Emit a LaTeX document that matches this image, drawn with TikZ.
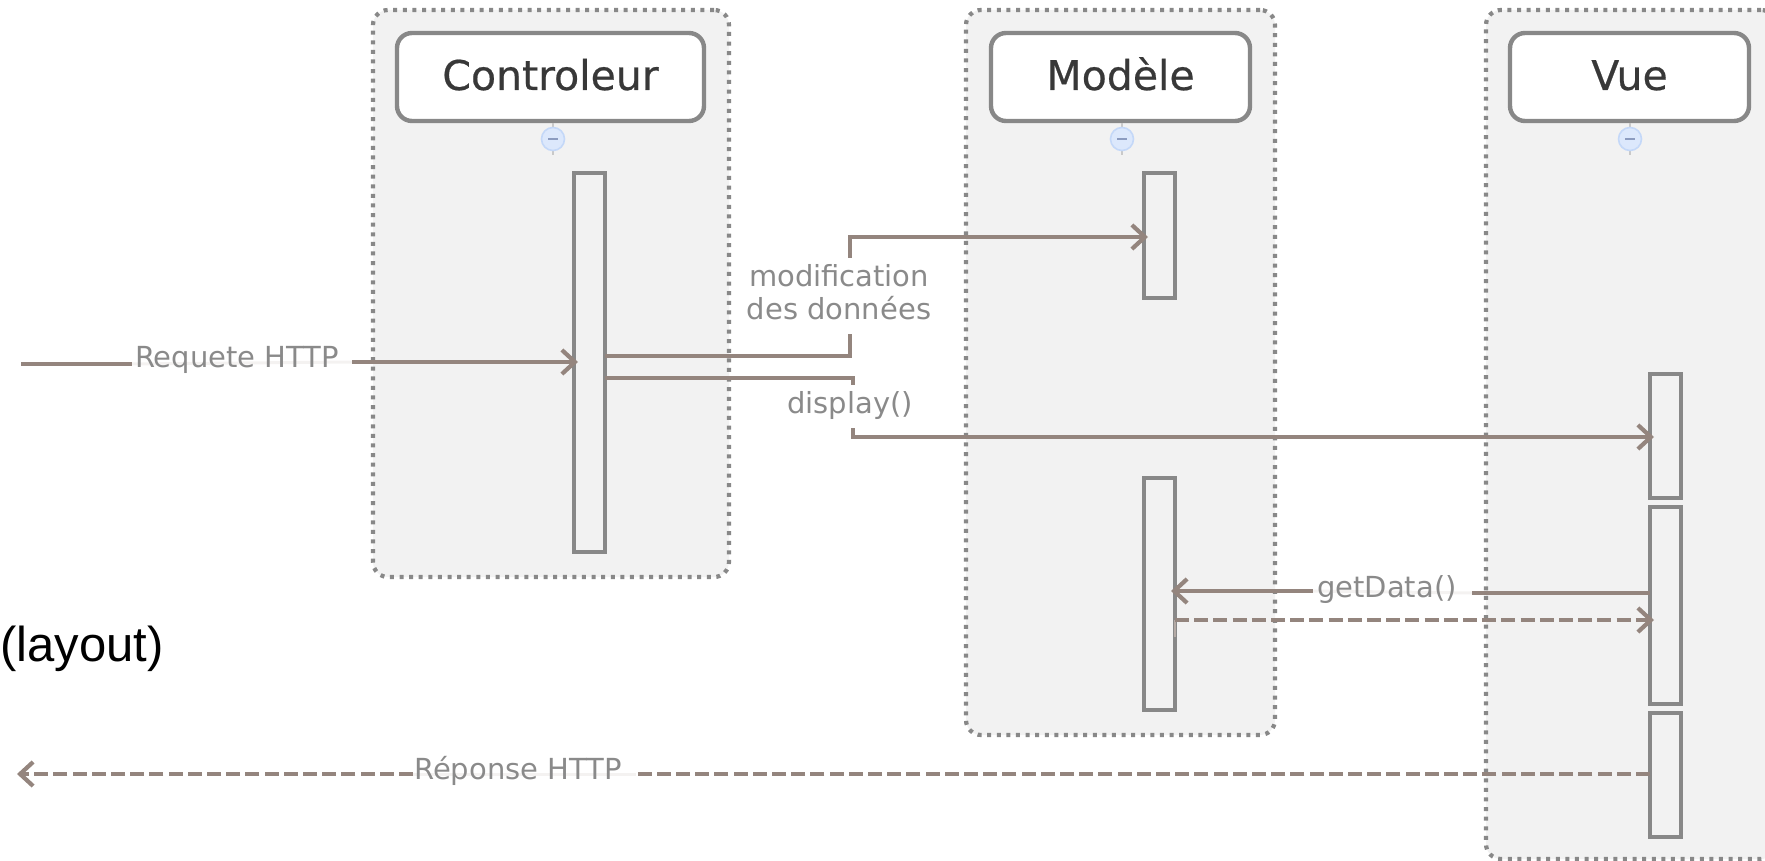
\documentclass[tikz,border=0pt]{standalone}
\usepackage{fontspec}
\setmainfont{DejaVu Sans}
\newfontfamily\arialfont{Liberation Sans}
\newfontfamily\headfont[FakeBold=0.5]{DejaVu Sans}
\usetikzlibrary{arrows.meta}
\definecolor{framefill}{HTML}{F2F2F2}
\definecolor{edgegrey}{HTML}{888888}
\definecolor{flow}{HTML}{94857E}
\definecolor{labelgrey}{HTML}{8A8A8A}
\definecolor{halo}{HTML}{F4F2F1}
\definecolor{bulbfill}{HTML}{DCE8FC}
\definecolor{bulbedge}{HTML}{C4D8F8}
\definecolor{bulbdash}{HTML}{8C9CC0}
\tikzset{
  lane/.style={draw=edgegrey,fill=framefill,line width=4.2pt,rounded corners=15pt,dash pattern=on 4pt off 5.6pt,inner sep=0pt,outer sep=0pt,anchor=north west},
  head/.style={draw=edgegrey,fill=white,line width=4.4pt,rounded corners=15pt,inner sep=0pt,outer sep=0pt,anchor=north west,text=black!78,text height=26pt,text depth=0pt,font=\headfont\fontsize{41}{45}\selectfont},
  actbar/.style={draw=edgegrey,fill=framefill,line width=4.8pt,inner sep=0pt,outer sep=0pt,anchor=north west,minimum width=31pt},
  msg/.style={draw=flow,line width=4.8pt},
  msgto/.style={msg,shorten >=-4pt,-{Straight Barb[length=13pt,width=24pt,line width=4.2pt]}},
  dashmsg/.style={dash pattern=on 14pt off 5.2pt},
  lab/.style={text=labelgrey,inner sep=0pt,outer sep=0pt,font=\fontsize{29}{33.5}\selectfont,align=center},
  halo line/.style={draw=halo,line width=3pt},
  bulb/.style={circle,draw=bulbedge,fill=bulbfill,line width=1.6pt,inner sep=0pt,outer sep=0pt,minimum size=23pt},
  stub/.style={draw=edgegrey!45,line width=2pt},
}
\begin{document}
\begin{tikzpicture}[x=1pt,y=-1pt]
\useasboundingbox (0,0) rectangle (1765,861);
% swimlanes
\node[lane,minimum width=356pt,minimum height=567pt] (laneC) at (373,10) {};
\node[lane,minimum width=309pt,minimum height=725pt] (laneM) at (966,10) {};
\node[lane,minimum width=290pt,minimum height=849pt] (laneV) at (1486,10) {};
% heads
\node[head,minimum width=307pt,minimum height=88pt] (headC) at (397,33) {Controleur};
\node[head,minimum width=259pt,minimum height=88pt] (headM) at (991,33) {Modèle};
\node[head,minimum width=239pt,minimum height=88pt] (headV) at (1510,33) {Vue};
% collapse bulbs
\foreach \n/\x in {C/553,M/1122,V/1630}{
  \draw[stub] (\x,123) -- (\x,155);
  \node[bulb] (bulb\n) at (\x,139) {};
  \draw[bulbdash,line width=1.8pt] (\x-5,139) -- (\x+5,139);
}
% activation bars
\node[actbar,minimum height=379pt] (barC) at (574,173) {};
\node[actbar,minimum height=125pt] (barM1) at (1144,173) {};
\node[actbar,minimum height=232pt] (barM2) at (1144,478) {};
\node[actbar,minimum height=124pt] (barV1) at (1650,374) {};
\node[actbar,minimum height=197pt] (barV2) at (1650,507) {};
\node[actbar,minimum height=124pt] (barV3) at (1650,713) {};
% free ends and bends
\coordinate (reqStart) at (21,364);
\coordinate (reqA) at (132,364);
\coordinate (reqB) at (352,362);
\coordinate (repEnd) at (21,774);
\coordinate (repA) at (413,774);
\coordinate (repB) at (636,774);
\coordinate (modA) at (850,356);
\coordinate (modB) at (850,334);
\coordinate (modC) at (850,258);
\coordinate (modD) at (850,237);
\coordinate (dispA) at (853,378);
\coordinate (dispB) at (853,385);
\coordinate (dispC) at (853,428);
\coordinate (dispD) at (853,437);
\coordinate (getA) at (1472,593);
\coordinate (getB) at (1313,591);
\coordinate (retY) at (1175,620);
\coordinate (retZ) at (1175,637);
% pale lines behind labels
\draw[halo line] (reqA) -- (reqB);
\draw[halo line] (getB) -- (getA);
\draw[halo line] (repA) -- (repB);
% connectors
\draw[msg] (reqStart) -- (reqA);
\draw[msgto] (reqB) -- (barC.west |- reqB);
\draw[msg] (barC.east |- modA) -- (modA) -- (modB);
\draw[msgto] (modC) -- (modD) -- (barM1.west |- modD);
\draw[msg] (barC.east |- dispA) -- (dispA) -- (dispB);
\draw[msgto] (dispC) -- (dispD) -- (barV1.west |- dispD);
\draw[msg] (barV2.west |- getA) -- (getA);
\draw[msgto] (getB) -- (barM2.east |- getB);
\draw[msg,draw=flow!70,line width=2pt] (retY) -- (retZ);
\draw[msgto,dashmsg] (retY) -- (barV2.west |- retY);
\draw[msg,dashmsg] (barV3.west |- repB) -- (repB);
\draw[msgto,dashmsg] (repA) -- (repEnd);
% labels
\node[lab,anchor=center] (lreq) at (237,360) {Requete HTTP};
\node[lab,anchor=center] (lmod) at (839,292) {modification\\des données};
\node[lab,anchor=center] (ldisp) at (850,405) {display()};
\node[lab,anchor=center] (lget) at (1387,590) {getData()};
\node[lab,anchor=center] (lrep) at (518,771) {Réponse HTTP};
\node[anchor=east,inner sep=0pt,font=\arialfont\fontsize{49}{55}\selectfont,text=black] (layout) at (164,649) {(layout)};
\end{tikzpicture}
\end{document}
